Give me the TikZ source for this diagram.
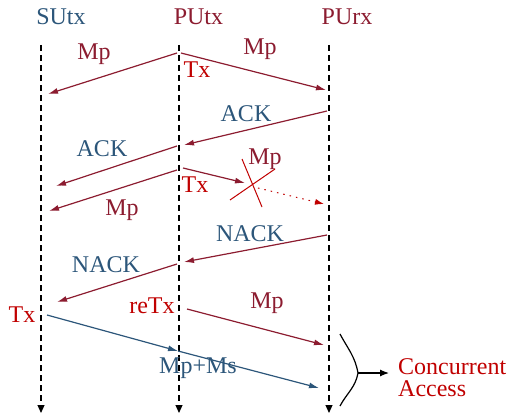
\documentclass[tikz,border=0pt]{standalone}
\usepackage{fontspec}
\setmainfont{Liberation Serif}
\usetikzlibrary{arrows.meta}
\definecolor{dred}{RGB}{140,28,48}
\definecolor{dblue}{RGB}{44,86,122}
\definecolor{bred}{RGB}{192,0,0}
\tikzset{
  life/.style={draw=black,line width=1.2pt,dash pattern=on 6pt off 4pt,-{Triangle[length=8pt,width=7pt]}},
  msg/.style={draw=dred,line width=1.2pt,-{Latex[length=10pt,width=6pt]}},
  smsg/.style={draw=dblue,line width=1.2pt,-{Latex[length=10pt,width=6pt]}},
  lbl/.style={font=\fontsize{24}{26}\selectfont,anchor=base,inner sep=0pt},
  hdr/.style={lbl},
}
\begin{document}
\begin{tikzpicture}[x=1pt,y=-1pt]
\useasboundingbox (0,0) rectangle (509,417);
% headers
\node[hdr,text=dblue] (hsu) at (61,25) {SUtx};
\node[hdr,text=dred] (hpt) at (198.5,25) {PUtx};
\node[hdr,text=dred] (hpr) at (347,25) {PUrx};
% lifelines
\coordinate (su0) at (41,45); \coordinate (su1) at (41,413);
\coordinate (pt0) at (179,45); \coordinate (pt1) at (179,413);
\coordinate (pr0) at (329,45); \coordinate (pr1) at (329,413);
\draw[life] (su0) -- (su1);
\draw[life] (pt0) -- (pt1);
\draw[life] (pr0) -- (pr1);
% message end points
\coordinate (a1s) at (177,53); \coordinate (a1e) at (48,94);
\coordinate (a2s) at (181,53); \coordinate (a2e) at (326,90);
\coordinate (a3s) at (327,111); \coordinate (a3e) at (184,145);
\coordinate (a4s) at (177,146); \coordinate (a4e) at (56,186);
\coordinate (a5s) at (177,170); \coordinate (a5e) at (49,211);
\coordinate (a6s) at (183,168); \coordinate (a6e) at (245,183);
\coordinate (c1s) at (242,159); \coordinate (c1e) at (262,207);
\coordinate (c2s) at (230,200); \coordinate (c2e) at (275,169);
\coordinate (ds) at (258,188); \coordinate (de) at (324,204);
\coordinate (a7s) at (327,235); \coordinate (a7e) at (184,262);
\coordinate (a8s) at (177,264); \coordinate (a8e) at (57,302);
\coordinate (bs) at (47,315); \coordinate (bm) at (178,351); \coordinate (be) at (319,388);
\coordinate (rs) at (187,309); \coordinate (re) at (324,345);
\coordinate (k0) at (340,334); \coordinate (k1) at (358,373); \coordinate (k2) at (340,406);
\coordinate (ca) at (389,373);
% arrows
\draw[msg] (a1s) -- (a1e);
\draw[msg] (a2s) -- (a2e);
\draw[msg] (a3s) -- (a3e);
\draw[msg] (a4s) -- (a4e);
\draw[msg] (a5s) -- (a5e);
\draw[msg] (a6s) -- (a6e);
\draw[bred,line width=1pt] (c1s) -- (c1e);
\draw[bred,line width=1pt] (c2s) -- (c2e);
\draw[bred,line width=1pt,dash pattern=on 1.5pt off 5pt,-{Latex[length=9pt,width=6pt]}] (ds) -- (de);
\draw[msg] (a7s) -- (a7e);
\draw[msg] (a8s) -- (a8e);
\draw[smsg] (bs) -- (bm);
\draw[smsg] (bm) -- (be);
\draw[msg] (rs) -- (re);
\draw[black,line width=1.2pt] (k0) to[out=-62,in=100] (k1) to[out=-100,in=62] (k2);
\draw[black,line width=1.2pt,-{Latex[length=9pt,width=7pt]}] (k1) -- (ca);
% labels
\node[lbl,text=dred] (l1) at (94,60) {Mp};
\node[lbl,text=dred] (l2) at (260,55) {Mp};
\node[lbl,text=bred] (l3) at (197,78) {Tx};
\node[lbl,text=dblue] (l4) at (246,122) {ACK};
\node[lbl,text=dblue] (l5) at (102,157) {ACK};
\node[lbl,text=dred] (l6) at (265,165) {Mp};
\node[lbl,text=bred] (l7) at (195,193) {Tx};
\node[lbl,text=dred] (l8) at (122,215) {Mp};
\node[lbl,text=dblue] (l9) at (250,241) {NACK};
\node[lbl,text=dblue] (l10) at (106,272) {NACK};
\node[lbl,text=bred] (l11) at (22,322) {Tx};
\node[lbl,text=bred] (l12) at (152,313) {reTx};
\node[lbl,text=dred] (l13) at (267,308) {Mp};
\node[lbl,text=dblue] (l14) at (198,373) {Mp+Ms};
\node[lbl,text=bred,anchor=base west] (l15) at (398,374) {Concurrent};
\node[lbl,text=bred,anchor=base west] (l16) at (398,396) {Access};
\end{tikzpicture}
\end{document}
